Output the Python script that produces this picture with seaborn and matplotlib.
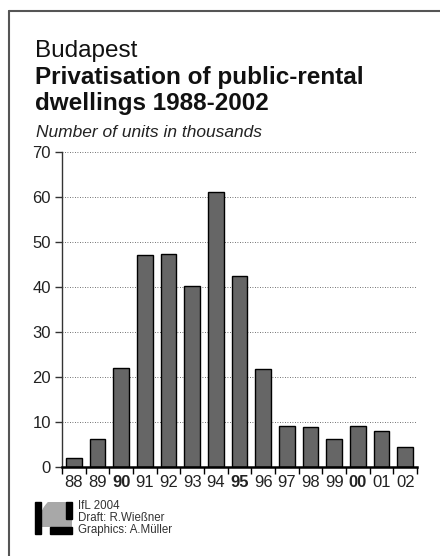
import seaborn as sns
import pandas as pd
import matplotlib.pyplot as plt
from matplotlib.patches import Rectangle, Circle

# Dados: privatização de habitações públicas em Budapeste (milhares)
anos = ["88", "89", "90", "91", "92", "93", "94", "95",
        "96", "97", "98", "99", "00", "01", "02"]
unidades = [1.9, 6.3, 22.0, 47.1, 47.4, 40.2, 61.1, 42.6,
            21.8, 9.2, 9.0, 6.3, 9.2, 8.1, 4.5]
anos_negrito = ["90", "95", "00"]
y_ticks = [0, 10, 20, 30, 40, 50, 60, 70]

df = pd.DataFrame({"ano": anos, "unidades": unidades})

sns.set_style("white")
plt.rcParams['font.family'] = ['Liberation Sans', 'DejaVu Sans']

fig = plt.figure(figsize=(4.4, 5.56), dpi=100)
ax = fig.add_axes([0.141, 0.160, 0.807, 0.566])

sns.barplot(x="ano", y="unidades", data=df, color="#666666",
            edgecolor="black", linewidth=1.0, width=0.66,
            saturation=1, ax=ax)

ax.set_ylim(0, 70)
ax.set_xlim(-0.5, len(anos) - 0.5)
ax.set_yticks(y_ticks)
ax.set_yticklabels([str(v) for v in y_ticks], fontsize=12, color="#222222")
ax.set_xlabel("")
ax.set_ylabel("")

# grade pontilhada
for v in y_ticks[1:]:
    ax.axhline(v, color="#444444", linestyle=(0, (1, 2)), linewidth=0.6, zorder=0)

# eixos
for s in ["top", "right"]:
    ax.spines[s].set_visible(False)
ax.spines["left"].set_color("#333333")
ax.spines["left"].set_linewidth(1.0)
ax.spines["bottom"].set_color("black")
ax.spines["bottom"].set_linewidth(1.8)
ax.tick_params(axis="y", length=5, width=1, color="#333333", pad=3, left=True)

# marcas do eixo x entre as barras
ax.set_xticks([i - 0.5 for i in range(len(anos) + 1)], minor=True)
ax.set_xticks(range(len(anos)))
ax.set_xticklabels(anos, fontsize=12, color="#222222")
for lbl in ax.get_xticklabels():
    if lbl.get_text() in anos_negrito:
        lbl.set_fontweight("bold")
ax.tick_params(axis="x", which="major", length=0, pad=6)
ax.tick_params(axis="x", which="minor", length=5, width=1, color="black", bottom=True)

# títulos
fig.text(0.080, 0.897, "Budapest", fontsize=17.5, color="#111111")
fig.text(0.080, 0.849, "Privatisation of public-rental", fontsize=17.5,
         fontweight="bold", color="#111111")
fig.text(0.080, 0.803, "dwellings 1988-2002", fontsize=17.5,
         fontweight="bold", color="#111111")
fig.text(0.082, 0.754, "Number of units in thousands", fontsize=12.5,
         style="italic", color="#222222")

# moldura (topo e esquerda)
fig.add_artist(plt.Line2D([0.0205, 1.0], [0.981, 0.981], color="#555555", lw=1.5))
fig.add_artist(plt.Line2D([0.0205, 0.0205], [0.0, 0.981], color="#555555", lw=1.5))

# logotipo simplificado
def fx(px):
    return px / 440

def fy(py):
    return 1 - py / 556

clip = Rectangle((fx(41), fy(527)), 31 / 440, 25 / 556,
                 transform=fig.transFigure, fill=False, lw=0)
fig.add_artist(clip)
globo = Circle((fx(66), fy(530)), 28 / 440, transform=fig.transFigure,
               color="#a8a8a8", zorder=1)
fig.add_artist(globo)
globo.set_clip_path(clip)
fig.add_artist(Rectangle((fx(35), fy(534)), 6 / 440, 32 / 556,
                         transform=fig.transFigure, color="black", zorder=2))
fig.add_artist(Rectangle((fx(66), fy(519)), 6 / 440, 17 / 556,
                         transform=fig.transFigure, color="black", zorder=2))
fig.add_artist(Rectangle((fx(50), fy(534)), 22 / 440, 7 / 556,
                         transform=fig.transFigure, color="black", zorder=2))

fig.text(fx(78), fy(509), "IfL 2004", fontsize=8.3, color="#333333")
fig.text(fx(78), fy(521), "Draft: R.Wießner", fontsize=8.3, color="#333333")
fig.text(fx(78), fy(533), "Graphics: A.Müller", fontsize=8.3, color="#333333")

plt.savefig("out.png", dpi=100)
